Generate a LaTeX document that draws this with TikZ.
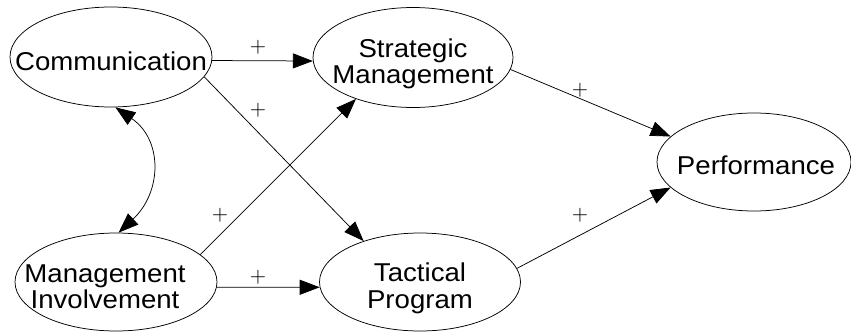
\documentclass[tikz,border=0pt]{standalone}
\usepackage{fontspec}
\setmainfont[FakeStretch=1.07]{Liberation Sans}
\newfontfamily\lmfont{lmroman10-regular.otf}
\usetikzlibrary{shapes.geometric,arrows.meta}
\tikzset{
  ell/.style={draw, ellipse, inner sep=0pt, line width=0.75pt},
  lbl/.style={font=\fontsize{25.8}{26.5}\selectfont, align=center, inner sep=0pt},
  pl/.style={font=\lmfont\fontsize{21}{21}\selectfont, inner sep=0pt},
  arr/.style={-{Triangle[length=20pt,width=15pt]}, line width=0.75pt},
  biarr/.style={{Triangle[length=20pt,width=15pt]}-{Triangle[length=20pt,width=15pt]}, line width=0.75pt}
}
\begin{document}
\begin{tikzpicture}[x=1pt,y=-1pt]
\useasboundingbox (0,0) rectangle (851,332);
% ellipses
\node[ell, minimum width=202pt, minimum height=100pt] (comm) at (111,57) {};
\node[ell, minimum width=200pt, minimum height=100pt] (sm) at (413,57.5) {};
\node[ell, minimum width=201pt, minimum height=98pt] (tp) at (420,282) {};
\node[ell, minimum width=202pt, minimum height=98pt] (mi) at (116,282) {};
\node[ell, minimum width=194pt, minimum height=98pt] (perf) at (754,162) {};
% labels
\node[lbl] (commt) at (111,61) {Communication};
\node[lbl] (smt) at (413,64) {Strategic\\Management};
\node[lbl] (tpt) at (420,288.5) {Tactical\\Program};
\node[lbl] (mit) at (105,286.5) {Management\\Involvement};
\node[lbl] (perft) at (756,165.5) {Performance};
% connectors
\draw[arr] (comm.-2.3) -- (sm.182.3);
\draw[arr] (comm.-12) -- (tp.144.3);
\draw[arr] (mi.18.2) -- (sm.216.9);
\draw[arr] (mi.-3.4) -- (tp.183.4);
\draw[arr] (sm.-7.5) -- (perf.163);
\draw[arr] (tp.8.1) -- (perf.197.6);
\draw[biarr] (comm.-85.4) .. controls (163,140) and (162,192) .. (mi.87.7);
% plus labels
\node[pl] (p1) at (258,47) {+};
\node[pl] (p2) at (258,110) {+};
\node[pl] (p3) at (220,215) {+};
\node[pl] (p4) at (258,277) {+};
\node[pl] (p5) at (580,90) {+};
\node[pl] (p6) at (580,215) {+};
\end{tikzpicture}
\end{document}
